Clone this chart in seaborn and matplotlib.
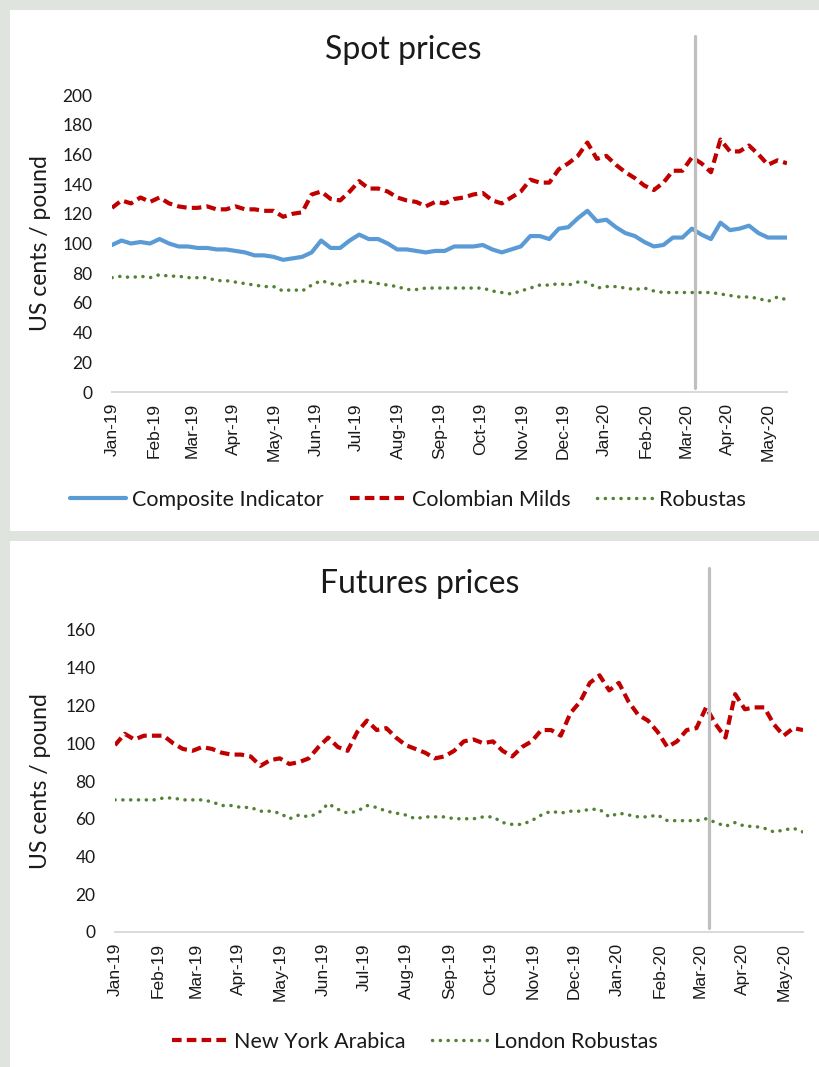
import matplotlib
matplotlib.use("Agg")
import matplotlib.pyplot as plt
from matplotlib.patches import Rectangle
import pandas as pd
import seaborn as sns

# ---------------------------------------------------------------- data
# weekly observations, 1 Jan 2019 .. mid-May 2020 (US cents / pound)
dates = pd.date_range("2019-01-01", "2020-05-15", periods=72)

composite_indicator = [
    99, 102, 100, 101, 100, 103, 100, 98, 98, 97, 97, 96, 96, 95, 94, 92, 92, 91,
    89, 90, 91, 94, 102, 97, 97, 102, 106, 103, 103, 100, 96, 96, 95, 94, 95, 95,
    98, 98, 98, 99, 96, 94, 96, 98, 105, 105, 103, 110, 111, 117, 122, 115, 116, 111,
    107, 105, 101, 98, 99, 104, 104, 110, 106, 103, 114, 109, 110, 112, 107, 104, 104, 104,
]
colombian_milds = [
    124, 129, 127, 131, 128, 131, 127, 125, 124, 124, 125, 123, 123, 125, 123, 123, 122, 122,
    118, 120, 121, 133, 135, 130, 129, 135, 142, 137, 137, 135, 131, 129, 128, 125, 128, 127,
    130, 131, 133, 134, 129, 127, 131, 135, 143, 141, 141, 150, 154, 159, 168, 157, 159, 153,
    148, 144, 139, 136, 141, 149, 149, 158, 154, 148, 170, 162, 162, 166, 160, 153, 156, 154,
]
robustas = [
    77, 78, 77, 78, 77, 79, 78, 78, 77, 77, 77, 75, 75, 74, 73, 72, 71, 71,
    68, 69, 68, 72, 75, 73, 72, 74, 75, 74, 73, 72, 71, 69, 69, 70, 70, 70,
    70, 70, 70, 70, 68, 67, 66, 68, 70, 72, 72, 73, 72, 74, 74, 70, 71, 71,
    70, 69, 70, 68, 67, 67, 67, 67, 67, 67, 66, 65, 64, 64, 63, 61, 64, 62,
]
new_york_arabica = [
    99, 105, 102, 104, 104, 104, 100, 97, 96, 98, 97, 95, 94, 94, 93, 88, 91, 92,
    89, 90, 92, 98, 103, 98, 96, 106, 112, 107, 108, 103, 99, 97, 95, 92, 93, 96,
    101, 102, 100, 101, 96, 93, 98, 101, 107, 107, 104, 116, 122, 132, 136, 128, 132, 122,
    115, 112, 106, 98, 101, 107, 108, 119, 110, 103, 126, 118, 119, 119, 110, 104, 108, 107,
]
london_robustas = [
    70, 70, 70, 70, 70, 71, 71, 70, 70, 70, 69, 67, 67, 66, 66, 64, 64, 63,
    60, 62, 61, 63, 68, 65, 63, 64, 67, 66, 64, 63, 62, 60, 61, 61, 61, 60,
    60, 60, 61, 61, 58, 57, 57, 59, 62, 64, 63, 64, 64, 65, 65, 61, 63, 62,
    61, 61, 62, 59, 59, 59, 59, 60, 58, 56, 58, 56, 56, 55, 53, 54, 55, 53,
]

month_ticks = pd.date_range("2019-01-01", "2020-05-01", freq="MS")
month_labels = [d.strftime("%b-%y") for d in month_ticks]
marker_date = pd.Timestamp("2020-03-08")

spot_yticks = list(range(0, 201, 20))
futures_yticks = list(range(0, 161, 20))

# ---------------------------------------------------------------- style
sns.set_theme(style="white")
plt.rcParams["font.family"] = ["Lato", "DejaVu Sans"]

W, H = 819, 1067
BG = "#dfe4df"
BLUE = "#5b9bd5"
RED = "#c00000"
GREEN = "#548235"
VLINE = "#bfbfbf"
AXIS = "#d9d9d9"
TXT = "#1a1a1a"

fig = plt.figure(figsize=(W / 100, H / 100), dpi=100)
fig.patch.set_facecolor(BG)


def px_rect(x0, y0, x1, y1):
    """Figure-fraction rectangle [left, bottom, width, height] from pixel edges."""
    return [x0 / W, 1 - y1 / H, (x1 - x0) / W, (y1 - y0) / H]


# white chart areas
for (x0, y0, x1, y1) in [(10, 10, 819, 531), (10, 541, 819, 1067)]:
    l, b, w, h = px_rect(x0, y0, x1, y1)
    fig.add_artist(Rectangle((l, b), w, h, transform=fig.transFigure,
                             facecolor="white", edgecolor="none", zorder=-1))

ax_spot = fig.add_axes(px_rect(112, 95, 787, 392))
ax_fut = fig.add_axes(px_rect(115, 630, 803, 932))

SOLID = dict(lw=3.0, solid_capstyle="round")
DASHED = dict(lw=3.0, linestyle=(0, (2.3, 1.25)), dash_capstyle="butt")
DOTTED = dict(lw=2.5, linestyle=(0, (0.05, 2.2)), dash_capstyle="round")

sns.lineplot(x=dates, y=composite_indicator, ax=ax_spot, color=BLUE,
             label="Composite Indicator", **SOLID)
sns.lineplot(x=dates, y=colombian_milds, ax=ax_spot, color=RED,
             label="Colombian Milds", **DASHED)
sns.lineplot(x=dates, y=robustas, ax=ax_spot, color=GREEN,
             label="Robustas", **DOTTED)

sns.lineplot(x=dates, y=new_york_arabica, ax=ax_fut, color=RED,
             label="New York Arabica", **DASHED)
sns.lineplot(x=dates, y=london_robustas, ax=ax_fut, color=GREEN,
             label="London Robustas", **DOTTED)


def style_axes(ax, yticks, vline_top):
    ax.set_facecolor("white")
    ax.set_xlim(dates[0], dates[-1])
    ax.set_ylim(yticks[0], yticks[-1])
    ax.set_yticks(yticks, labels=[str(v) for v in yticks],
                  fontsize=12.5, color=TXT)
    ax.set_xticks(month_ticks, labels=month_labels, rotation=90,
                  fontsize=12.5, color=TXT,
                  fontfamily=["Liberation Sans", "DejaVu Sans"])
    ax.tick_params(axis="x", length=0, pad=8)
    ax.tick_params(axis="y", length=0, pad=14)
    for side in ("top", "right", "left"):
        ax.spines[side].set_visible(False)
    ax.spines["bottom"].set_color(AXIS)
    ax.spines["bottom"].set_linewidth(1.4)
    ax.set_xlabel("")
    ax.set_ylabel("US cents / pound", fontsize=16.5, color=TXT)
    ax.axvline(marker_date, ymin=0.013, ymax=vline_top, color=VLINE, lw=2.3,
               clip_on=False, zorder=5)
    ax.grid(False)
    leg = ax.get_legend()
    if leg is not None:
        leg.remove()


style_axes(ax_spot, spot_yticks, 1.199)
style_axes(ax_fut, futures_yticks, 1.205)

ax_spot.yaxis.set_label_coords(-61 / 675, 0.5)
ax_fut.yaxis.set_label_coords(-64 / 688, 0.5)

fig.text(403 / W, 1 - 50 / H, "Spot prices", ha="center", va="center",
         fontsize=23, color=TXT)
fig.text(420 / W, 1 - 584 / H, "Futures prices", ha="center", va="center",
         fontsize=23, color=TXT)

leg_kw = dict(loc="center", frameon=False, fontsize=15.5, handlelength=2.6,
              handletextpad=0.3, columnspacing=1.2, labelcolor=TXT)

h, l = ax_spot.get_legend_handles_labels()
fig.legend(h, l, ncol=3, bbox_to_anchor=(408 / W, 1 - 500 / H), **leg_kw)
h, l = ax_fut.get_legend_handles_labels()
fig.legend(h, l, ncol=2, bbox_to_anchor=(415 / W, 1 - 1042 / H), **leg_kw)

fig.savefig("out.png", dpi=100, facecolor=BG)
